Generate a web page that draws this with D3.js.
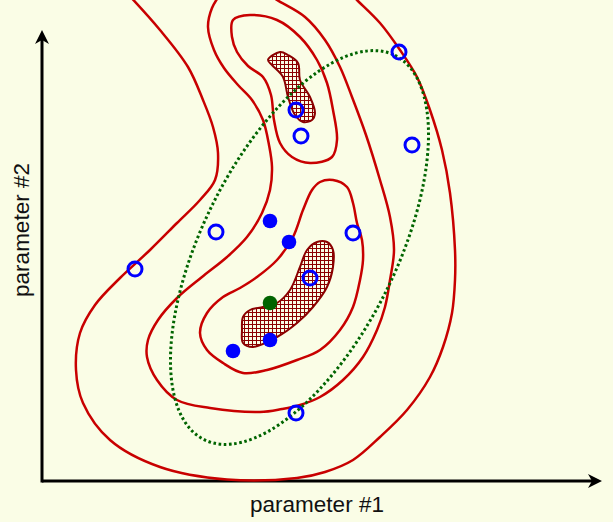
<!DOCTYPE html>
<html>
<head>
<meta charset="utf-8">
<script src="https://cdn.jsdelivr.net/npm/d3@7"></script>
<style>
  html, body { margin: 0; padding: 0; background: #fafde6; }
  svg { display: block; }
</style>
</head>
<body>
<svg id="chart" width="613" height="522"></svg>
<script>
// ---- data (parameter space units) ----
const xDomain = [0, 560];
const yDomain = [0, 451];
const xLabel = "parameter #1";
const yLabel = "parameter #2";

// contour level 1 (outermost, open at top)
const contour1 = [[84,489],[118,451],[146,414],[161,381],[171,354],[176,328],[173,301],[158,281],[135,258],[108,231],[78,203],[53,176],[38,148],[34,111],[41,78],[68,41],[118,14],[185,1.5],[255,3],[283,9],[311,21],[338,44],[365,71],[388,104],[401,134],[410,168],[413,201],[413,231],[408,288],[400,331],[388,371],[375,404],[358,431],[338,458],[315,481],[303,493]];
// contour level 2 (open at top)
const contour2 = [[180,489],[170,473],[166,454],[172,431],[182,413],[196,396],[210,381],[221,361],[227,336],[230,314],[228,291],[220,268],[205,244],[185,224],[160,204],[135,183],[116,161],[106,141],[105,124],[115,101],[135,81],[168,73],[218,69],[240,72],[258,76],[278,84],[301,101],[321,124],[335,151],[343,174],[348,201],[352,231],[348,264],[338,301],[324,346],[310,384],[298,414],[283,441],[263,464],[235,481],[223,489]];
// contour level 3, upper mode (closed)
const contour3a = [[191,461],[208,466],[235,461],[258,444],[275,421],[285,398],[291,371],[295,341],[290,324],[268,318],[250,324],[238,338],[232,361],[229,386],[221,404],[206,415],[195,429],[190,444]];
// contour level 3, lower mode (closed)
const contour3b = [[291,301],[305,294],[311,278],[315,258],[320,241],[321,221],[318,201],[311,174],[298,151],[278,131],[255,121],[225,111],[201,108],[181,118],[165,131],[158,148],[165,168],[181,184],[198,193],[215,204],[235,221],[251,244],[261,271],[270,291],[278,299]];
// highest-density regions (hatched)
const hdrA = [[226,421],[238,429],[246,426],[256,418],[258,401],[268,384],[273,368],[270,361],[261,359],[253,366],[246,384],[241,404],[230,416]];
const hdrB = [[201,164],[208,171],[221,174],[235,178],[248,191],[258,214],[265,231],[275,239],[285,239],[291,231],[291,214],[285,194],[271,174],[255,158],[235,144],[211,134],[201,138],[200,151]];

// samples
const openX = [357,254,259,370,174,93,311,268,254];
const openY = [429,371,345,336,249,212,248,203,68];
const filledX = [228,247,228,191];
const filledY = [260,239,141,130];
const centerX = [228];
const centerY = [178];

// confidence ellipse: centre x, centre y, semi-major, semi-minor, angle (deg)
const ellipseCx = [257.5];
const ellipseCy = [233.5];
const ellipseA = [214.5];
const ellipseB = [97];
const ellipseAngle = [63.6];

// ---- drawing ----
const svg = d3.select("#chart");
const W = 613, H = 522;
const x = d3.scaleLinear().domain(xDomain).range([42, 602]);
const y = d3.scaleLinear().domain(yDomain).range([481, 30]);

svg.append("rect").attr("width", W).attr("height", H).attr("fill", "#fafde6");

const defs = svg.append("defs");
const pat = defs.append("pattern")
  .attr("id", "hatch").attr("patternUnits", "userSpaceOnUse")
  .attr("width", 4).attr("height", 4);
pat.append("rect").attr("width", 4).attr("height", 4).attr("fill", "#fafde6");
pat.append("path").attr("d", "M0,0.5H4M0.5,0V4")
  .attr("stroke", "#8b0000").attr("stroke-width", 1).attr("fill", "none");

// axes
const ax = svg.append("g");
ax.append("line")
  .attr("x1", x(0)).attr("y1", y(0)).attr("x2", x(553)).attr("y2", y(0))
  .attr("stroke", "#000").attr("stroke-width", 3);
ax.append("line")
  .attr("x1", x(0)).attr("y1", y(0) + 1.5).attr("x2", x(0)).attr("y2", y(444))
  .attr("stroke", "#000").attr("stroke-width", 3);
// arrowheads
const tipX = [x(560), y(0)];
ax.append("path")
  .attr("d", `M${tipX[0]},${tipX[1]}L${tipX[0]-14},${tipX[1]-7}L${tipX[0]-10},${tipX[1]}L${tipX[0]-14},${tipX[1]+7}Z`)
  .attr("fill", "#000");
const tipY = [x(0), y(451)];
ax.append("path")
  .attr("d", `M${tipY[0]},${tipY[1]}L${tipY[0]-7},${tipY[1]+14}L${tipY[0]},${tipY[1]+10}L${tipY[0]+7},${tipY[1]+14}Z`)
  .attr("fill", "#000");

ax.append("text")
  .attr("x", 317).attr("y", 511.5)
  .attr("text-anchor", "middle")
  .attr("font-family", "'Liberation Sans', Arial, sans-serif")
  .attr("font-size", 22.5).attr("fill", "#111")
  .text(xLabel);
ax.append("text")
  .attr("transform", "translate(29,230) rotate(-90)")
  .attr("text-anchor", "middle")
  .attr("font-family", "'Liberation Sans', Arial, sans-serif")
  .attr("font-size", 22.5).attr("fill", "#111")
  .text(yLabel);

// contours
const openLine = d3.line().x(d => x(d[0])).y(d => y(d[1])).curve(d3.curveCatmullRom.alpha(0.5));
const closedLine = d3.line().x(d => x(d[0])).y(d => y(d[1])).curve(d3.curveCatmullRomClosed.alpha(0.5));

const cg = svg.append("g").attr("fill", "none").attr("stroke", "#c80000").attr("stroke-width", 2.5);
cg.append("path").attr("d", openLine(contour1));
cg.append("path").attr("d", openLine(contour2));
cg.append("path").attr("d", closedLine(contour3a));
cg.append("path").attr("d", closedLine(contour3b));

const hg = svg.append("g");
[hdrA, hdrB].forEach(r => {
  hg.append("path").attr("d", closedLine(r))
    .attr("fill", "url(#hatch)")
    .attr("stroke", "#8b0000").attr("stroke-width", 2);
});

// ellipse
ellipseCx.forEach((cx, i) => {
  const ex = x(cx), ey = y(ellipseCy[i]);
  svg.append("ellipse")
    .attr("cx", ex).attr("cy", ey)
    .attr("rx", x(ellipseA[i]) - x(0))
    .attr("ry", y(0) - y(ellipseB[i]))
    .attr("transform", `rotate(${-ellipseAngle[i]},${ex},${ey})`)
    .attr("fill", "none")
    .attr("stroke", "#006400").attr("stroke-width", 3)
    .attr("stroke-dasharray", "2.6,2.6");
});

// samples
const pg = svg.append("g");
openX.forEach((v, i) => {
  pg.append("circle").attr("cx", x(v)).attr("cy", y(openY[i])).attr("r", 7)
    .attr("fill", "none").attr("stroke", "#0000ff").attr("stroke-width", 3);
});
filledX.forEach((v, i) => {
  pg.append("circle").attr("cx", x(v)).attr("cy", y(filledY[i])).attr("r", 7.3)
    .attr("fill", "#0000ff");
});
centerX.forEach((v, i) => {
  pg.append("circle").attr("cx", x(v)).attr("cy", y(centerY[i])).attr("r", 7.3)
    .attr("fill", "#006400");
});
</script>
</body>
</html>
